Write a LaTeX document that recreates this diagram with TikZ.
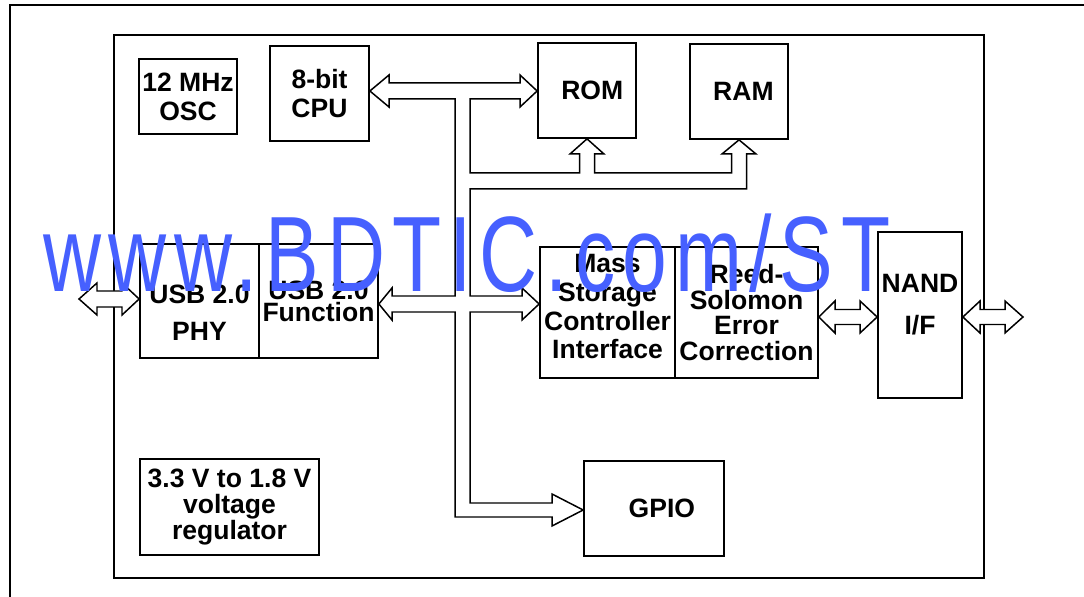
\documentclass[tikz,border=0pt]{standalone}
\usepackage{fontspec}
\setmainfont{Liberation Sans}
\newfontfamily\wmfont[LetterSpace=9.5]{Liberation Sans}
\definecolor{ink}{HTML}{000000}
\definecolor{wmblue}{HTML}{4660FF}

\begin{document}
\begin{tikzpicture}[
  x=0.02cm, y=-0.02cm,
  blk/.style={
    draw=ink,
    line width=1pt,
    align=center,
    inner sep=0pt,
    font=\bfseries\fontsize{15.1}{16.4}\selectfont
  },
  chip/.style={draw=ink, line width=1.5pt},
  outer/.style={draw=ink, line width=1.1pt},
  bus/.style={draw=ink, line width=0.85pt, fill=white, line join=miter},
  wmark/.style={text=wmblue, inner sep=0pt, font=\wmfont\fontsize{61}{61}\selectfont}
]
\useasboundingbox (0,0) rectangle (1084,597);
\clip (0,0) rectangle (1084,597);

% Frames
\draw[outer] (10,600) -- (10,5) -- (1090,5);
\draw[chip] (114,35) rectangle (984,578);

% Blocks
\node[blk, minimum width=1.96cm, minimum height=1.5cm] (osc) at (188,96.5) {12 MHz\\OSC};
\node[blk, minimum width=1.98cm, minimum height=1.9cm] (cpu) at (319.5,93.5) {8-bit\\CPU};
\node[blk, minimum width=1.96cm, minimum height=1.9cm] (rom) at (587,90.5) {\hspace*{6pt}ROM};
\node[blk, minimum width=1.96cm, minimum height=1.9cm] (ram) at (739,91.5) {\hspace*{5pt}RAM};
\node[blk, minimum width=2.38cm, minimum height=2.28cm] (phy) at (199.5,301) {\rule{0pt}{24pt}USB 2.0\\[4.6pt]PHY};
\node[blk, minimum width=2.38cm, minimum height=2.28cm] (func) at (318.5,301) {USB 2.0\\[-3.9pt]Function};
\node[blk, minimum width=2.7cm, minimum height=2.62cm] (msc) at (607.5,312.5) {Mass\\Storage\\Controller\\Interface\rule[-6.8pt]{0pt}{6.8pt}};
\node[blk, minimum width=2.86cm, minimum height=2.62cm] (rs) at (746.5,312.5) {Reed-\\[-1.7pt]Solomon\\[-1.7pt]Error\\[-1.7pt]Correction};
\node[blk, minimum width=1.68cm, minimum height=3.32cm] (nand) at (920,315) {NAND\\[7.4pt]I/F\rule[-12.5pt]{0pt}{12.5pt}};
\node[blk, minimum width=3.58cm, minimum height=1.92cm] (reg) at (229.5,507) {3.3 V to 1.8 V\\[-1.7pt]voltage\\[-1.7pt]regulator};
\node[blk, minimum width=2.8cm, minimum height=1.9cm] (gpio) at (654,508.5) {\hspace*{9pt}GPIO};

% External ends
\coordinate (usbext) at (79,299);
\coordinate (nandext) at (1023,317);

% Internal bus
\draw[bus] (cpu.east |- 0,91) -- (389,75) -- (389,83) -- (520,83) -- (520,75)
  -- (rom.west |- 0,91) -- (520,107) -- (520,99) -- (470,99) -- (470,173)
  -- (579.5,173) -- (579.5,154) -- (570,154) -- (rom.south) -- (604,154) -- (594.5,154)
  -- (594.5,173) -- (731.5,173) -- (731.5,154) -- (722,154) -- (ram.south) -- (756,154)
  -- (746.5,154) -- (746.5,189) -- (470,189) -- (470,296) -- (522,296) -- (522,288)
  -- (msc.west |- 0,304) -- (522,320) -- (522,312) -- (470,312) -- (470,503)
  -- (552,503) -- (552,494) -- (gpio.west |- 0,510) -- (552,526) -- (552,517)
  -- (455,517) -- (455,312) -- (392,312) -- (392,320) -- (func.east |- 0,304)
  -- (392,288) -- (392,296) -- (455,296) -- (455,99) -- (389,99) -- (389,107) -- cycle;

% USB and NAND buses
\draw[bus] (usbext) -- (97,283) -- (97,291) -- (122,291) -- (122,283) -- (phy.west |- 0,299)
  -- (122,315) -- (122,307) -- (97,307) -- (97,315) -- cycle;
\draw[bus] (rs.east |- 0,317) -- (835,301) -- (835,309.5) -- (860,309.5) -- (860,301)
  -- (nand.west |- 0,317) -- (860,333) -- (860,324.5) -- (835,324.5) -- (835,333) -- cycle;
\draw[bus] (nand.east |- 0,317) -- (980,301) -- (980,309.5) -- (1005,309.5) -- (1005,301)
  -- (nandext) -- (1005,333) -- (1005,324.5) -- (980,324.5) -- (980,333) -- cycle;

% Watermark
\node[wmark, anchor=base west] (wm) at (43,292) {\scalebox{0.75}[1]{www.BDTIC.com/ST}};

\end{tikzpicture}
\end{document}
